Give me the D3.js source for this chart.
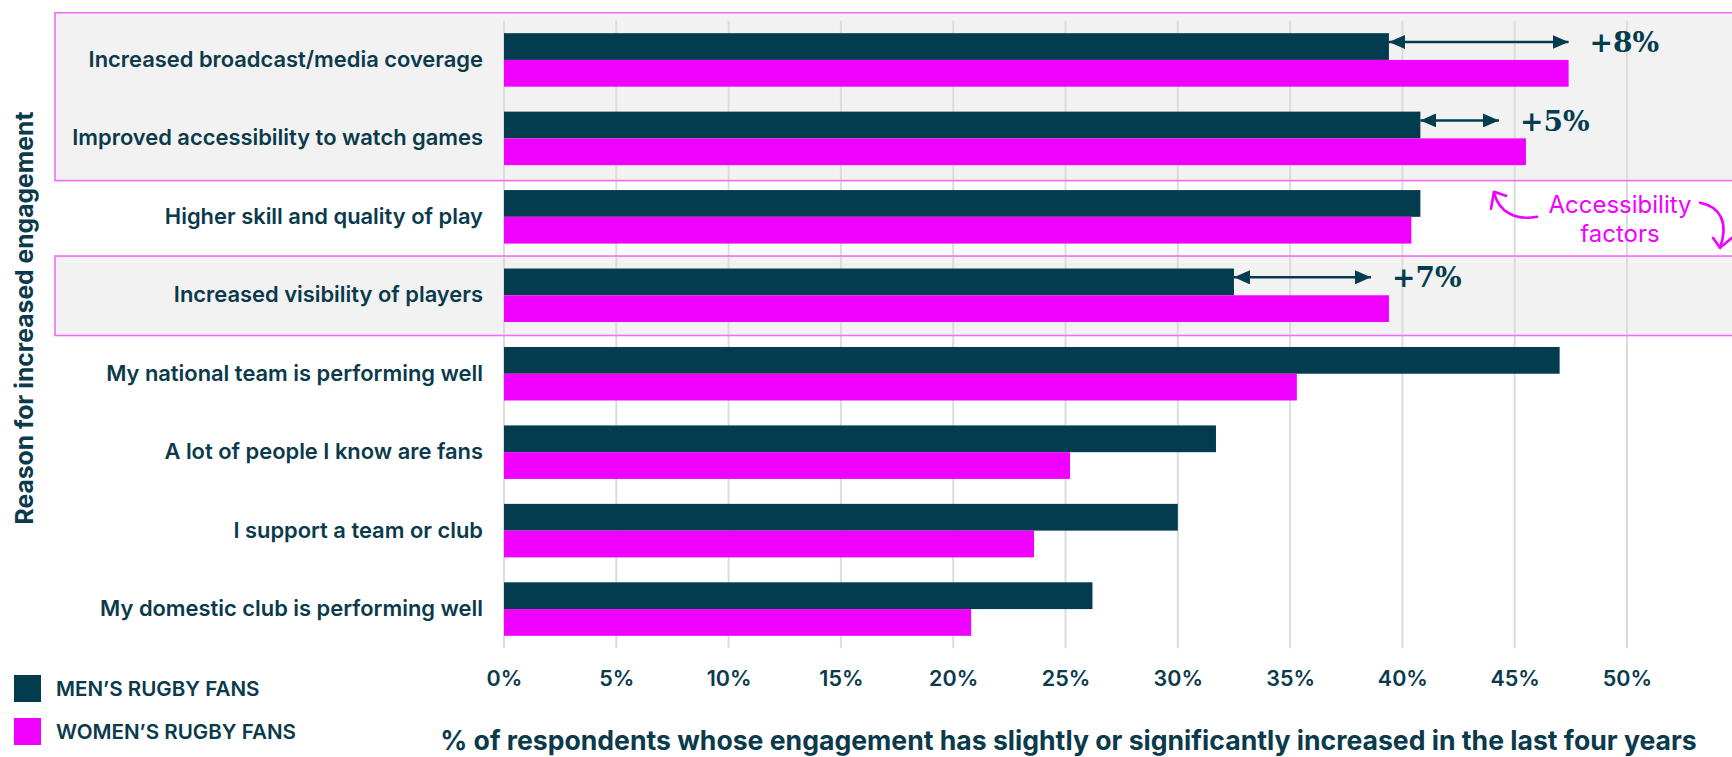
<!DOCTYPE html>
<html><head><meta charset="utf-8">
<script src="https://cdn.jsdelivr.net/npm/d3@7"></script>
<style>
html,body{margin:0;padding:0;background:#fff;}
svg{display:block;font-family:Inter,Lato,sans-serif;}
</style>
</head><body>
<svg id="chart" width="1732" height="757"></svg>
<script>
// ---- data ----
const categories = [
  "Increased broadcast/media coverage",
  "Improved accessibility to watch games",
  "Higher skill and quality of play",
  "Increased visibility of players",
  "My national team is performing well",
  "A lot of people I know are fans",
  "I support a team or club",
  "My domestic club is performing well"
];
const mensFans   = [39.4, 40.8, 40.8, 32.5, 47.0, 31.7, 30.0, 26.2];
const womensFans = [47.4, 45.5, 40.4, 39.4, 35.3, 25.2, 23.6, 20.8];
const seriesNames = ["MEN\u2019S RUGBY FANS", "WOMEN\u2019S RUGBY FANS"];
const xTicks = [0, 5, 10, 15, 20, 25, 30, 35, 40, 45, 50];
const gapCategories = [categories[0], categories[1], categories[3]];
const gapEnds = [47.4, 44.3, 38.6];
const gapLabels = ["+8%", "+5%", "+7%"];
const highlightGroups = [[categories[0], categories[1]], [categories[3]]];
const noteCategory = categories[2];
const noteLines = ["Accessibility", "factors"];
const xTitle = "% of respondents whose engagement has slightly or significantly increased in the last four years";
const yTitle = "Reason for increased engagement";

// ---- style ----
const DARK = "#033c4e", MAG = "#f000ff", BOXLINE = "#f36bf3", BOXFILL = "#f2f2f2", GRID = "#dcdcdc", TXT = "#0a3a4b";
const FONT = "Inter, Lato, sans-serif";

const svg = d3.select("#chart");
const x = d3.scaleLinear().domain([0, 50]).range([504, 1627]);
const y = d3.scaleBand().domain(categories).range([20.7, 648.3]).paddingInner(0.318).paddingOuter(0.159);
const sub = d3.scaleBand().domain(["men", "women"]).range([0, y.bandwidth()]);
const color = d3.scaleOrdinal().domain(["men", "women"]).range([DARK, MAG]);
const gap = y.step() - y.bandwidth();

// highlight boxes (fill)
const boxes = highlightGroups.map((g, i) => {
  const top = i === 0 ? y.range()[0] - 8 : y(g[0]) - gap / 2;
  const bottom = y(g[g.length - 1]) + y.bandwidth() + gap / 2 + (i === 0 ? 3 : 1);
  return {top, bottom};
});
svg.append("g").selectAll("rect").data(boxes).join("rect")
  .attr("x", 55).attr("y", d => d.top).attr("width", 1700).attr("height", d => d.bottom - d.top)
  .attr("fill", BOXFILL);

// grid
svg.append("g").selectAll("line").data(xTicks).join("line")
  .attr("x1", d => x(d)).attr("x2", d => x(d))
  .attr("y1", y.range()[0]).attr("y2", y.range()[1])
  .attr("stroke", GRID).attr("stroke-width", 2);

// box outlines
svg.append("g").selectAll("rect").data(boxes).join("rect")
  .attr("x", 55).attr("y", d => d.top).attr("width", 1700).attr("height", d => d.bottom - d.top)
  .attr("fill", "none").attr("stroke", BOXLINE).attr("stroke-width", 1.6);

// bars
const rows = categories.map((c, i) => ({c, men: mensFans[i], women: womensFans[i]}));
const grp = svg.append("g").selectAll("g").data(rows).join("g")
  .attr("transform", d => `translate(0,${y(d.c)})`);
grp.selectAll("rect").data(d => [{k: "men", v: d.men}, {k: "women", v: d.women}]).join("rect")
  .attr("x", x(0)).attr("y", d => sub(d.k))
  .attr("width", d => x(d.v) - x(0)).attr("height", sub.bandwidth())
  .attr("fill", d => color(d.k));

// y axis labels
const yAxis = svg.append("g").attr("transform", `translate(${x(0)},0)`)
  .call(d3.axisLeft(y).tickSize(0).tickPadding(21));
yAxis.select(".domain").remove();
yAxis.selectAll("text").attr("font-family", FONT).attr("font-size", 21.9)
  .attr("font-weight", 600).attr("fill", TXT);

// x axis labels
const xAxis = svg.append("g").attr("transform", `translate(0,${y.range()[1]})`)
  .call(d3.axisBottom(x).tickValues(xTicks).tickFormat(d => d + "%").tickSize(0).tickPadding(22));
xAxis.select(".domain").remove();
xAxis.selectAll("text").attr("font-family", FONT).attr("font-size", 21.5)
  .attr("font-weight", 600).attr("fill", TXT);

// titles
svg.append("text").attr("x", (x(0) + x(50)) / 2 + 3).attr("y", 750)
  .attr("text-anchor", "middle").attr("font-size", 26.6).attr("font-weight", 700).attr("fill", TXT)
  .text(xTitle);
svg.append("text").attr("transform", "translate(33,318) rotate(-90)")
  .attr("text-anchor", "middle").attr("font-size", 24.7).attr("font-weight", 700).attr("fill", TXT)
  .text(yTitle);

// gap arrows
const defs = svg.append("defs");
defs.append("marker").attr("id", "ah").attr("viewBox", "0 0 16 14")
  .attr("refX", 16).attr("refY", 7).attr("markerWidth", 16).attr("markerHeight", 14)
  .attr("markerUnits", "userSpaceOnUse").attr("orient", "auto-start-reverse")
  .append("path").attr("d", "M0,0 L16,7 L0,14 Z").attr("fill", DARK);
const gaps = gapCategories.map((c, i) => ({c, from: mensFans[categories.indexOf(c)], to: gapEnds[i], label: gapLabels[i]}));
const ga = svg.append("g").selectAll("g").data(gaps).join("g")
  .attr("transform", d => `translate(0,${y(d.c) + sub("men") + sub.bandwidth() * 0.33})`);
ga.append("line").attr("x1", d => x(d.from)).attr("x2", d => x(d.to))
  .attr("stroke", DARK).attr("stroke-width", 2.5)
  .attr("marker-start", "url(#ah)").attr("marker-end", "url(#ah)");
ga.append("text").attr("x", d => x(d.to) + 21).attr("y", 0).attr("dy", "0.36em")
  .attr("font-family", "'DejaVu Serif', serif").attr("font-weight", 700).attr("font-size", 28)
  .attr("fill", DARK).text(d => d.label);

// note
const note = svg.append("g")
  .attr("transform", `translate(${x(50) - 7},${y(noteCategory) + y.bandwidth() / 2})`);
note.selectAll("text").data(noteLines).join("text")
  .attr("x", 0).attr("y", (d, i) => -3.5 + i * 28.4)
  .attr("text-anchor", "middle").attr("font-size", 24).attr("font-weight", 400).attr("fill", MAG)
  .text(d => d);
const curl = [
  "M-83,0 C-105,4 -121,-5 -126,-24",
  "M-129,-8 L-126,-25 L-114,-21",
  "M80,-14 C100,-10 109,5 100,31",
  "M93,21 L100,31 L112,21"
];
note.selectAll("path").data(curl).join("path").attr("d", d => d)
  .attr("fill", "none").attr("stroke", MAG).attr("stroke-width", 2.6)
  .attr("stroke-linecap", "round").attr("stroke-linejoin", "round");

// legend
const lg = svg.append("g").selectAll("g").data(seriesNames).join("g")
  .attr("transform", (d, i) => `translate(14,${675 + i * 43})`);
lg.append("rect").attr("width", 27).attr("height", 27)
  .attr("fill", (d, i) => color(["men", "women"][i]));
lg.append("text").attr("x", 42).attr("y", 13.5).attr("dy", "0.36em")
  .attr("font-size", 20.6).attr("font-weight", 600).attr("fill", TXT).text(d => d);
</script>
</body></html>
